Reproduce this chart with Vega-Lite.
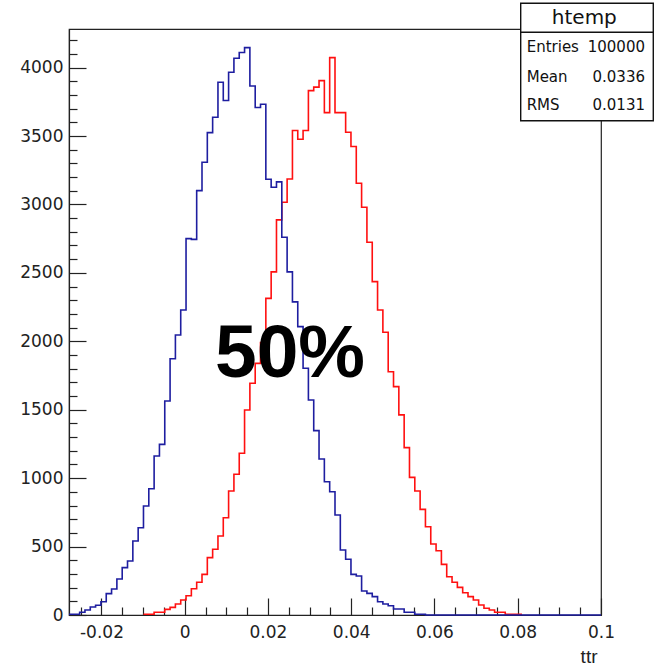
{
  "$schema": "https://vega.github.io/schema/vega-lite/v6.json",
  "autosize": "none",
  "width": 532,
  "height": 586,
  "padding": {"left": 69, "top": 29, "right": 57, "bottom": 53},
  "background": "white",
  "config": {
    "view": {"stroke": "#222", "strokeWidth": 1.2},
    "axis": {"grid": false, "domainColor": "#222", "tickColor": "#222", "labelColor": "#222", "labelFont": "DejaVu Sans", "labelFontSize": 17, "labelOverlap": false, "labelFlush": false, "tickWidth": 1.2, "domainWidth": 1.2}
  },
  "datasets": {
    "blue": [
      {"ttr": -0.0278, "entries": 5},
      {"ttr": -0.026522, "entries": 5},
      {"ttr": -0.025244, "entries": 20},
      {"ttr": -0.023966, "entries": 37},
      {"ttr": -0.022688, "entries": 58},
      {"ttr": -0.02141, "entries": 71},
      {"ttr": -0.020132, "entries": 97},
      {"ttr": -0.018854, "entries": 156},
      {"ttr": -0.017576, "entries": 190},
      {"ttr": -0.016298, "entries": 263},
      {"ttr": -0.01502, "entries": 346},
      {"ttr": -0.013742, "entries": 395},
      {"ttr": -0.012464, "entries": 541},
      {"ttr": -0.011186, "entries": 638},
      {"ttr": -0.009908, "entries": 797},
      {"ttr": -0.00863, "entries": 923},
      {"ttr": -0.007352, "entries": 1162},
      {"ttr": -0.006074, "entries": 1247},
      {"ttr": -0.004796, "entries": 1564},
      {"ttr": -0.003518, "entries": 1873},
      {"ttr": -0.00224, "entries": 2046},
      {"ttr": -0.000962, "entries": 2229},
      {"ttr": 0.000316, "entries": 2750},
      {"ttr": 0.001594, "entries": 2745},
      {"ttr": 0.002872, "entries": 3101},
      {"ttr": 0.00415, "entries": 3308},
      {"ttr": 0.005428, "entries": 3525},
      {"ttr": 0.006706, "entries": 3637},
      {"ttr": 0.007984, "entries": 3893},
      {"ttr": 0.009262, "entries": 3759},
      {"ttr": 0.01054, "entries": 3966},
      {"ttr": 0.011818, "entries": 4068},
      {"ttr": 0.013096, "entries": 4110},
      {"ttr": 0.014374, "entries": 4146},
      {"ttr": 0.015652, "entries": 3866},
      {"ttr": 0.01693, "entries": 3708},
      {"ttr": 0.018208, "entries": 3732},
      {"ttr": 0.019486, "entries": 3184},
      {"ttr": 0.020764, "entries": 3126},
      {"ttr": 0.022042, "entries": 3165},
      {"ttr": 0.02332, "entries": 2760},
      {"ttr": 0.024598, "entries": 2507},
      {"ttr": 0.025876, "entries": 2288},
      {"ttr": 0.027154, "entries": 2107},
      {"ttr": 0.028432, "entries": 1803},
      {"ttr": 0.02971, "entries": 1571},
      {"ttr": 0.030988, "entries": 1347},
      {"ttr": 0.032266, "entries": 1140},
      {"ttr": 0.033544, "entries": 974},
      {"ttr": 0.034822, "entries": 901},
      {"ttr": 0.0361, "entries": 731},
      {"ttr": 0.037378, "entries": 475},
      {"ttr": 0.038656, "entries": 407},
      {"ttr": 0.039934, "entries": 297},
      {"ttr": 0.041212, "entries": 285},
      {"ttr": 0.04249, "entries": 175},
      {"ttr": 0.043768, "entries": 158},
      {"ttr": 0.045046, "entries": 134},
      {"ttr": 0.046324, "entries": 97},
      {"ttr": 0.047602, "entries": 80},
      {"ttr": 0.04888, "entries": 68},
      {"ttr": 0.050158, "entries": 44},
      {"ttr": 0.051436, "entries": 44},
      {"ttr": 0.052714, "entries": 20},
      {"ttr": 0.053992, "entries": 20},
      {"ttr": 0.05527, "entries": 5},
      {"ttr": 0.056548, "entries": 5},
      {"ttr": 0.057826, "entries": 0},
      {"ttr": 0.1, "entries": 0}
    ],
    "red": [
      {"ttr": -0.009908, "entries": 5},
      {"ttr": -0.00863, "entries": 5},
      {"ttr": -0.007352, "entries": 20},
      {"ttr": -0.006074, "entries": 20},
      {"ttr": -0.004796, "entries": 41},
      {"ttr": -0.003518, "entries": 56},
      {"ttr": -0.00224, "entries": 80},
      {"ttr": -0.000962, "entries": 110},
      {"ttr": 0.000316, "entries": 141},
      {"ttr": 0.001594, "entries": 192},
      {"ttr": 0.002872, "entries": 239},
      {"ttr": 0.00415, "entries": 297},
      {"ttr": 0.005428, "entries": 419},
      {"ttr": 0.006706, "entries": 480},
      {"ttr": 0.007984, "entries": 577},
      {"ttr": 0.009262, "entries": 711},
      {"ttr": 0.01054, "entries": 906},
      {"ttr": 0.011818, "entries": 1028},
      {"ttr": 0.013096, "entries": 1182},
      {"ttr": 0.014374, "entries": 1498},
      {"ttr": 0.015652, "entries": 1693},
      {"ttr": 0.01693, "entries": 1839},
      {"ttr": 0.018208, "entries": 1990},
      {"ttr": 0.019486, "entries": 2314},
      {"ttr": 0.020764, "entries": 2507},
      {"ttr": 0.022042, "entries": 2887},
      {"ttr": 0.02332, "entries": 3016},
      {"ttr": 0.024598, "entries": 3186},
      {"ttr": 0.025876, "entries": 3540},
      {"ttr": 0.027154, "entries": 3476},
      {"ttr": 0.028432, "entries": 3540},
      {"ttr": 0.02971, "entries": 3832},
      {"ttr": 0.030988, "entries": 3857},
      {"ttr": 0.032266, "entries": 3905},
      {"ttr": 0.033544, "entries": 3671},
      {"ttr": 0.034822, "entries": 4073},
      {"ttr": 0.0361, "entries": 3671},
      {"ttr": 0.037378, "entries": 3671},
      {"ttr": 0.038656, "entries": 3527},
      {"ttr": 0.039934, "entries": 3423},
      {"ttr": 0.041212, "entries": 3155},
      {"ttr": 0.04249, "entries": 2980},
      {"ttr": 0.043768, "entries": 2724},
      {"ttr": 0.045046, "entries": 2436},
      {"ttr": 0.046324, "entries": 2229},
      {"ttr": 0.047602, "entries": 2066},
      {"ttr": 0.04888, "entries": 1778},
      {"ttr": 0.050158, "entries": 1669},
      {"ttr": 0.051436, "entries": 1462},
      {"ttr": 0.052714, "entries": 1223},
      {"ttr": 0.053992, "entries": 1006},
      {"ttr": 0.05527, "entries": 906},
      {"ttr": 0.056548, "entries": 772},
      {"ttr": 0.057826, "entries": 645},
      {"ttr": 0.059104, "entries": 519},
      {"ttr": 0.060382, "entries": 470},
      {"ttr": 0.06166, "entries": 370},
      {"ttr": 0.062938, "entries": 280},
      {"ttr": 0.064216, "entries": 239},
      {"ttr": 0.065494, "entries": 202},
      {"ttr": 0.066772, "entries": 163},
      {"ttr": 0.06805, "entries": 134},
      {"ttr": 0.069328, "entries": 110},
      {"ttr": 0.070606, "entries": 73},
      {"ttr": 0.071884, "entries": 49},
      {"ttr": 0.073162, "entries": 37},
      {"ttr": 0.07444, "entries": 20},
      {"ttr": 0.075718, "entries": 20},
      {"ttr": 0.076996, "entries": 5},
      {"ttr": 0.078274, "entries": 5},
      {"ttr": 0.079552, "entries": 5},
      {"ttr": 0.08083, "entries": 0}
    ]
  },
  "resolve": {"axis": {"x": "independent", "y": "independent"}},
  "layer": [
    {
      "data": {"name": "red"},
      "mark": {"type": "line", "interpolate": "step-after", "color": "#ff1010", "strokeWidth": 1.6},
      "encoding": {
        "x": {"field": "ttr", "type": "quantitative", "scale": {"domain": [-0.0278, 0.1], "nice": false, "zero": false},
          "axis": {
            "values": [-0.025, -0.02, -0.015, -0.01, -0.005, 0, 0.005, 0.01, 0.015, 0.02, 0.025, 0.03, 0.035, 0.04, 0.045, 0.05, 0.055, 0.06, 0.065, 0.07, 0.075, 0.08, 0.085, 0.09, 0.095, 0.1],
            "labelExpr": "abs(datum.value*50 - round(datum.value*50)) < 0.000001 ? '' + (round(datum.value*100)/100) : ''",
            "tickSize": {"condition": {"test": "abs(datum.value*50 - round(datum.value*50)) < 0.000001", "value": -17}, "value": -8},
            "labelPadding": 26,
            "title": "ttr", "titleFont": "Liberation Sans", "titleFontSize": 19, "titleFontWeight": "normal", "titleColor": "#222",
            "titleAlign": "right", "titleBaseline": "alphabetic", "titleX": 528, "titleY": 47
          }},
        "y": {"field": "entries", "type": "quantitative", "scale": {"domain": [0, 4282], "nice": false, "zero": true},
          "axis": {
            "values": [0, 100, 200, 300, 400, 500, 600, 700, 800, 900, 1000, 1100, 1200, 1300, 1400, 1500, 1600, 1700, 1800, 1900, 2000, 2100, 2200, 2300, 2400, 2500, 2600, 2700, 2800, 2900, 3000, 3100, 3200, 3300, 3400, 3500, 3600, 3700, 3800, 3900, 4000, 4100, 4200],
            "format": "d",
            "labelExpr": "datum.value % 500 === 0 ? datum.label : ''",
            "tickSize": {"condition": {"test": "datum.value % 500 === 0", "value": -17}, "value": -8},
            "labelPadding": 23,
            "title": null
          }}
      }
    },
    {
      "data": {"name": "blue"},
      "mark": {"type": "line", "interpolate": "step-after", "color": "#1e1ea0", "strokeWidth": 1.6},
      "encoding": {
        "x": {"field": "ttr", "type": "quantitative", "axis": null},
        "y": {"field": "entries", "type": "quantitative", "axis": null}
      }
    },
    {
      "data": {"values": [{"t": "50%"}]},
      "mark": {"type": "text", "font": "Liberation Sans", "fontWeight": "bold", "fontSize": 75, "align": "center", "baseline": "alphabetic", "color": "black", "clip": false},
      "encoding": {
        "text": {"field": "t"},
        "x": {"datum": 0.02529, "type": "quantitative", "axis": null},
        "y": {"datum": 1741, "type": "quantitative", "axis": null}
      }
    },
    {
      "data": {"values": [{"t": "htemp"}]},
      "mark": {"type": "rect", "fill": "white", "stroke": "#111", "strokeWidth": 1.4, "clip": false},
      "encoding": {
        "x": {"datum": 0.08071, "type": "quantitative", "axis": null},
        "x2": {"datum": 0.11256},
        "y": {"datum": 4470, "type": "quantitative", "axis": null},
        "y2": {"datum": 3612}
      }
    },
    {
      "data": {"values": [{"t": "htemp"}]},
      "mark": {"type": "rule", "stroke": "#111", "strokeWidth": 1.4, "clip": false},
      "encoding": {
        "x": {"datum": 0.08071, "type": "quantitative", "axis": null},
        "x2": {"datum": 0.11256},
        "y": {"datum": 4258, "type": "quantitative", "axis": null}
      }
    },
    {
      "data": {"values": [{"t": "htemp"}]},
      "mark": {"type": "text", "font": "DejaVu Sans", "fontSize": 20, "align": "center", "baseline": "middle", "color": "#111", "clip": false},
      "encoding": {
        "text": {"field": "t"},
        "x": {"datum": 0.09599, "type": "quantitative", "axis": null},
        "y": {"datum": 4362, "type": "quantitative", "axis": null}
      }
    },
    {
      "data": {"values": [{"t": "Entries"}]},
      "mark": {"type": "text", "font": "DejaVu Sans", "fontSize": 15, "align": "left", "baseline": "middle", "color": "#111", "clip": false},
      "encoding": {
        "text": {"field": "t"},
        "x": {"datum": 0.08215, "type": "quantitative", "axis": null},
        "y": {"datum": 4149, "type": "quantitative", "axis": null}
      }
    },
    {
      "data": {"values": [{"t": "Mean"}]},
      "mark": {"type": "text", "font": "DejaVu Sans", "fontSize": 15, "align": "left", "baseline": "middle", "color": "#111", "clip": false},
      "encoding": {
        "text": {"field": "t"},
        "x": {"datum": 0.08215, "type": "quantitative", "axis": null},
        "y": {"datum": 3928, "type": "quantitative", "axis": null}
      }
    },
    {
      "data": {"values": [{"t": "RMS"}]},
      "mark": {"type": "text", "font": "DejaVu Sans", "fontSize": 15, "align": "left", "baseline": "middle", "color": "#111", "clip": false},
      "encoding": {
        "text": {"field": "t"},
        "x": {"datum": 0.08215, "type": "quantitative", "axis": null},
        "y": {"datum": 3727, "type": "quantitative", "axis": null}
      }
    },
    {
      "data": {"values": [{"t": "100000"}]},
      "mark": {"type": "text", "font": "DejaVu Sans", "fontSize": 15, "align": "right", "baseline": "middle", "color": "#111", "clip": false},
      "encoding": {
        "text": {"field": "t"},
        "x": {"datum": 0.11057, "type": "quantitative", "axis": null},
        "y": {"datum": 4149, "type": "quantitative", "axis": null}
      }
    },
    {
      "data": {"values": [{"t": "0.0336"}]},
      "mark": {"type": "text", "font": "DejaVu Sans", "fontSize": 15, "align": "right", "baseline": "middle", "color": "#111", "clip": false},
      "encoding": {
        "text": {"field": "t"},
        "x": {"datum": 0.11057, "type": "quantitative", "axis": null},
        "y": {"datum": 3928, "type": "quantitative", "axis": null}
      }
    },
    {
      "data": {"values": [{"t": "0.0131"}]},
      "mark": {"type": "text", "font": "DejaVu Sans", "fontSize": 15, "align": "right", "baseline": "middle", "color": "#111", "clip": false},
      "encoding": {
        "text": {"field": "t"},
        "x": {"datum": 0.11057, "type": "quantitative", "axis": null},
        "y": {"datum": 3727, "type": "quantitative", "axis": null}
      }
    }
  ]
}
